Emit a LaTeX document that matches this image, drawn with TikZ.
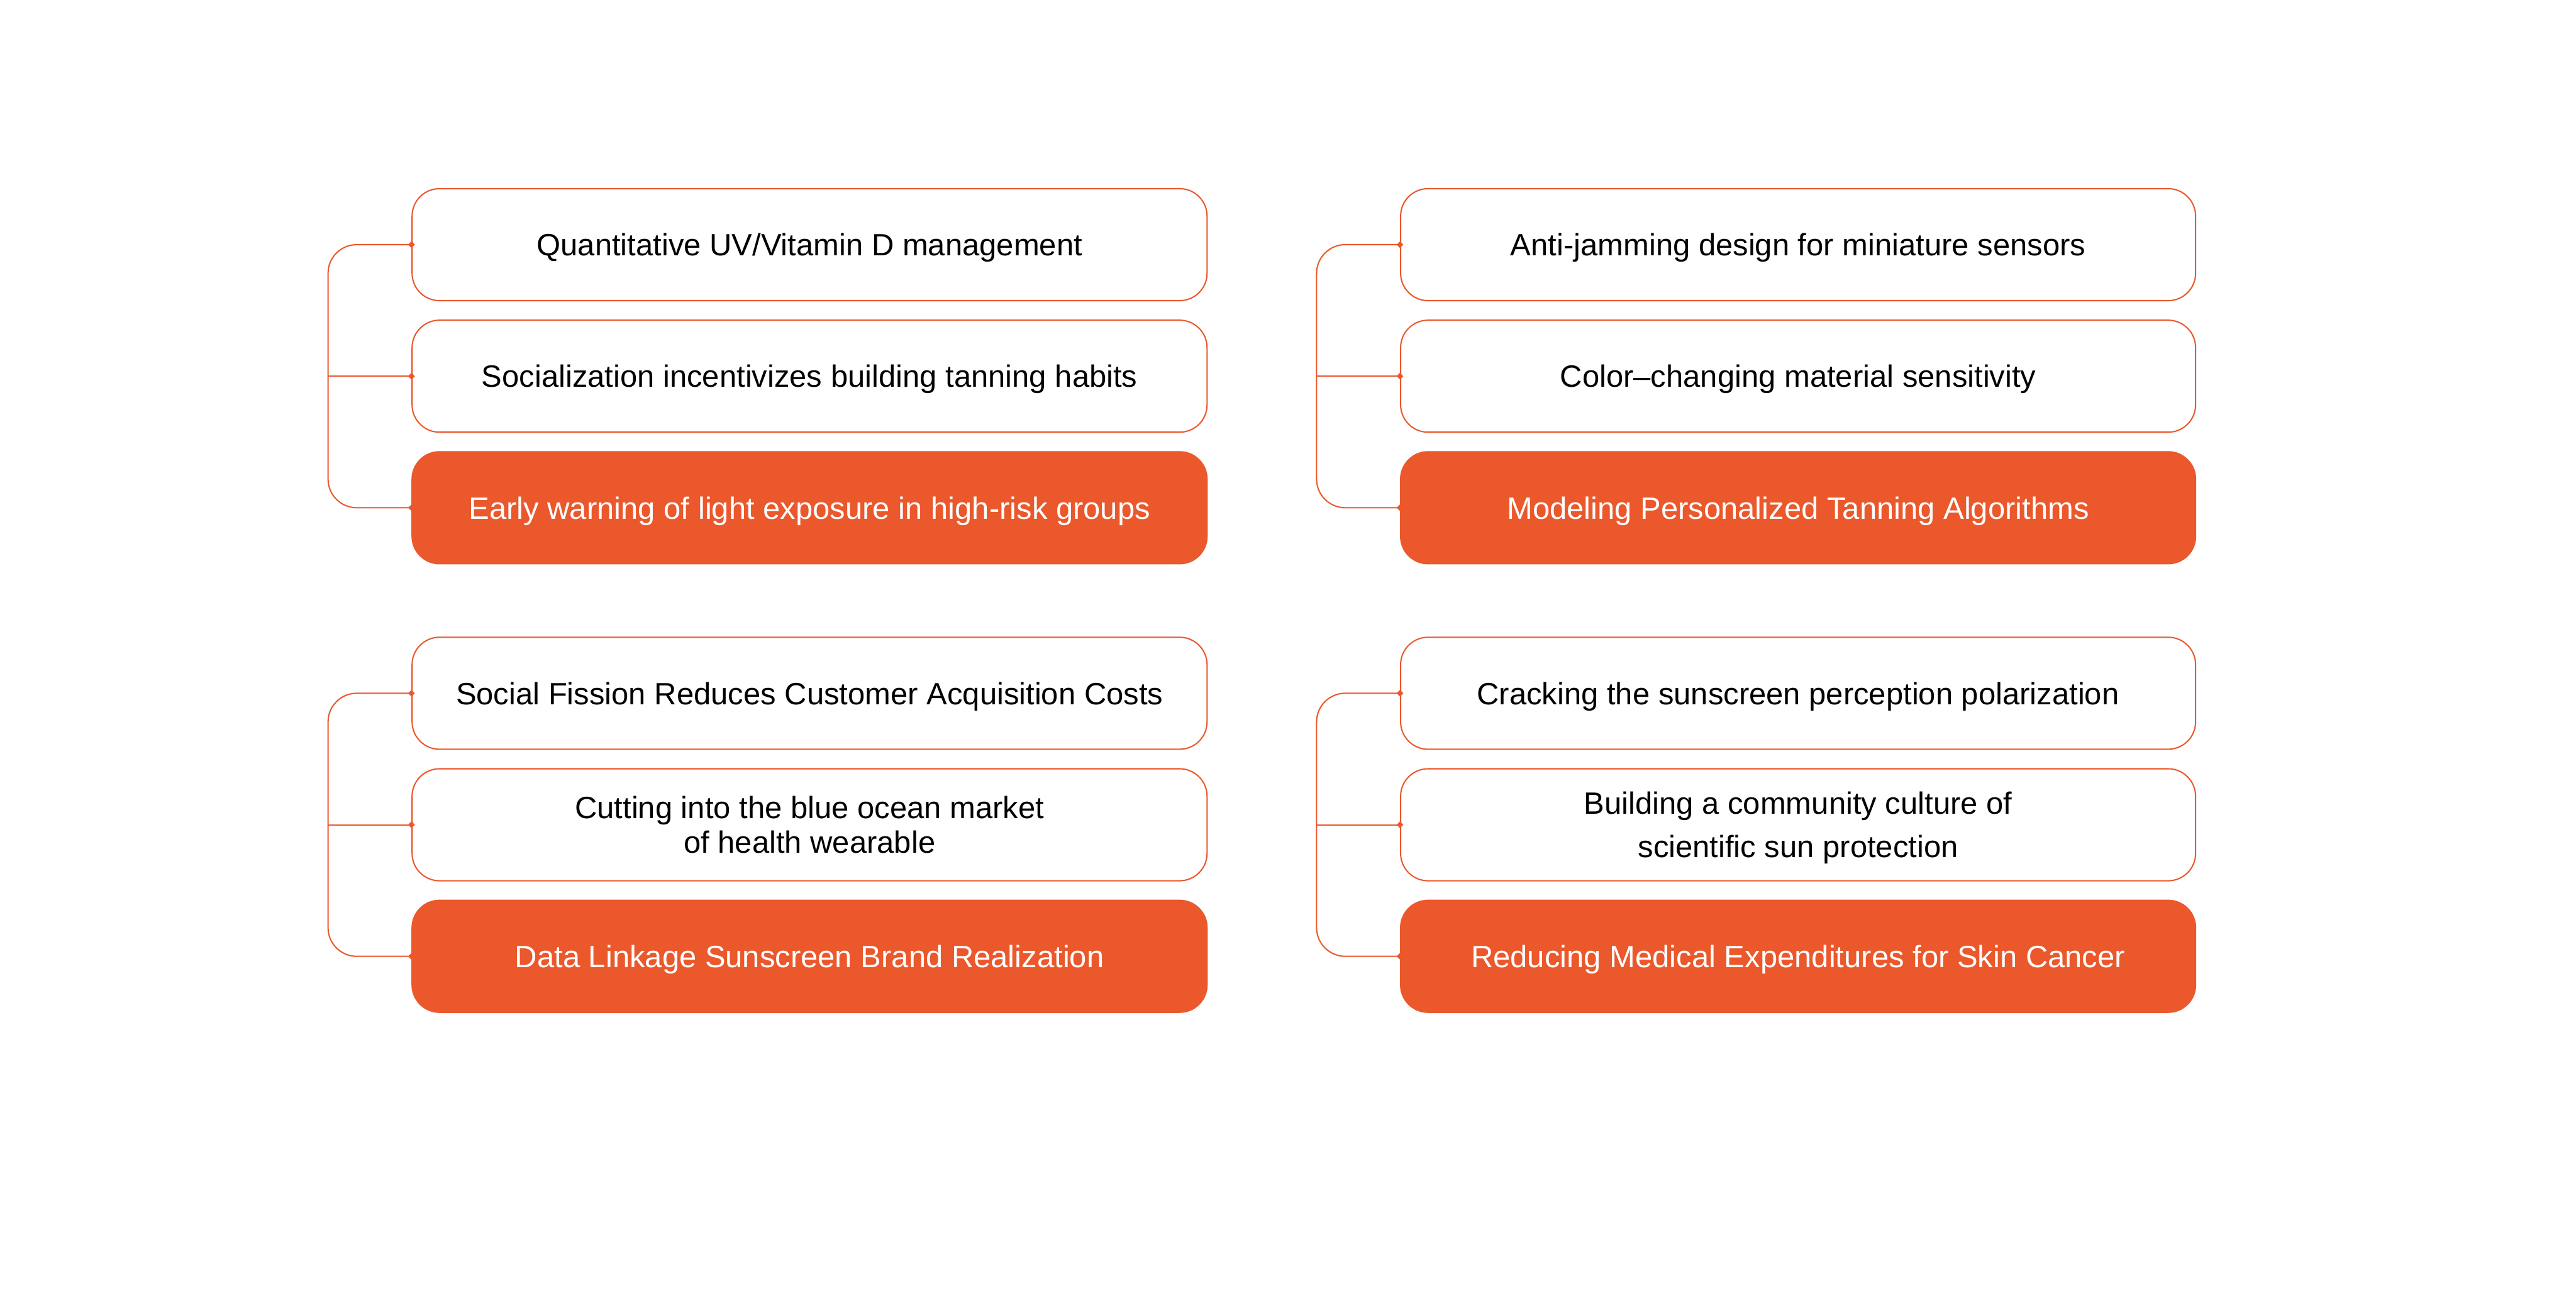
\documentclass[tikz,border=0pt]{standalone}
\usepackage{fontspec}
\setmainfont{Liberation Sans}
\definecolor{sunorange}{RGB}{234, 88, 44}
\usetikzlibrary{arrows.meta, positioning, calc}

\begin{document}
\begin{tikzpicture}[node distance=0.3cm,
    every node/.style={font=\fontsize{14.4}{16.2}\selectfont},
    item/.style={draw=sunorange, line width=0.6pt, rounded corners=0.45cm, minimum width=13.06cm, minimum height=1.84cm, align=center, inner sep=0pt, text depth=0pt},
    goal/.style={item, fill=sunorange, text=white},
    link/.style={draw=sunorange, line width=0.6pt, rounded corners=0.47cm, arrows={Turned Square[length=1.1mm,width=1.1mm]-Turned Square[length=1.1mm,width=1.1mm]}, shorten <=-0.55mm, shorten >=-0.55mm},
    stem/.style={link, arrows={-Turned Square[length=1.1mm,width=1.1mm]}, shorten <=0pt}]
    \useasboundingbox (0,0) rectangle (42.32,21.40);
    % top left
    \node[item] (A1) at (13.30,17.38) {Quantitative UV/Vitamin D management};
    \node[item, below=of A1] (A2) {Socialization incentivizes building tanning habits};
    \node[goal, below=of A2] (A3) {Early warning of light exposure in high-risk groups};
    % top right
    \node[item] (B1) at (29.54,17.38) {Anti-jamming design for miniature sensors};
    \node[item, below=of B1] (B2) {Color–changing material sensitivity};
    \node[goal, below=of B2] (B3) {Modeling Personalized Tanning Algorithms};
    % bottom left
    \node[item] (C1) at (13.30,10.01) {Social Fission Reduces Customer Acquisition Costs};
    \node[item, below=of C1] (C2) {Cutting into the blue ocean market\\of health wearable};
    \node[goal, below=of C2] (C3) {Data Linkage Sunscreen Brand Realization};
    % bottom right
    \node[item] (D1) at (29.54,10.01) {Cracking the sunscreen perception polarization};
    \node[item, below=of D1] (D2) {Building a community culture of\\[4pt]scientific sun protection};
    \node[goal, below=of D2] (D3) {Reducing Medical Expenditures for Skin Cancer};
    % brackets
    \foreach \g in {A,B,C,D} {
        \coordinate (t\g) at ($(\g2.west)+(-1.37,0)$);
        \draw[link] (\g1.west) -| (t\g) |- (\g3.west);
        \draw[stem] (t\g) -- (\g2.west);
    }
\end{tikzpicture}
\end{document}
